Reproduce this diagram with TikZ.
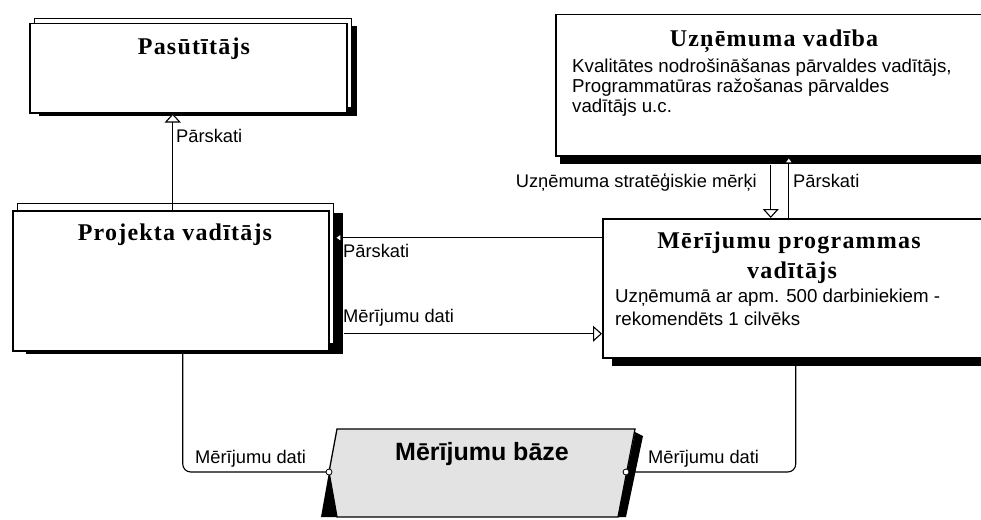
\documentclass[tikz,border=0pt]{standalone}
\usepackage{fontspec}
\setmainfont{Liberation Serif}
\setsansfont{Liberation Sans}
\newfontfamily\ttlfont[LetterSpace=5]{Liberation Serif}
\usetikzlibrary{arrows.meta,shadows,calc}
\begin{document}
\begin{tikzpicture}[x=1pt,y=-1pt,
  box/.style={draw=black, line width=1.5pt, fill=white, inner sep=0pt, anchor=north west},
  dsh/.style 2 args={general shadow={shadow xshift=#1, shadow yshift=#2, fill=black, draw=black, line width=1pt}},
  bsh/.style 2 args={general shadow={shadow xshift=#1, shadow yshift=#2, fill=white, draw=black, line width=1.2pt}},
  ttl/.style={font=\ttlfont\bfseries\fontsize{24}{28}\selectfont, inner sep=0pt, anchor=base},
  body/.style={font=\sffamily\fontsize{18.7}{20}\selectfont, inner sep=0pt, anchor=base west},
  lbl/.style={font=\sffamily\fontsize{18.3}{20}\selectfont, inner sep=0pt, anchor=base west},
  conn/.style={line width=1.1pt},
  arrbig/.style={conn, -{Triangle[length=9pt, width=16pt, fill=white]}},
  arrsm/.style={conn, -{Triangle[length=7pt, width=10pt, fill=white]}},
]
\useasboundingbox (0,0) rectangle (981,519);

% boxes
\node[box, minimum width=317pt, minimum height=89pt, dsh={10pt}{-3pt}, bsh={5pt}{5pt}] (pas) at (29,23) {};
\node[box, minimum width=316pt, minimum height=140pt, dsh={14pt}{-3pt}, bsh={5pt}{7pt}] (proj) at (12,210) {};
\node[box, minimum width=427pt, minimum height=141pt, dsh={5pt}{-8pt}] (uz) at (555,14) {};
\node[box, minimum width=380pt, minimum height=139pt, dsh={10pt}{-8pt}] (mer) at (602,218) {};

% titles
\node[ttl] (pastt) at (194,55) {Pasūtītājs};
\node[ttl] (projt) at (175,240) {Projekta vadītājs};
\node[ttl] (uzt) at (774,47) {Uzņēmuma vadība};
\node[ttl] (mert1) at (789,248) {Mērījumu programmas};
\node[ttl] (mert2) at (792,278) {vadītājs};

% body texts
\node[body] (uzb1) at (572,72) {Kvalitātes nodrošināšanas pārvaldes vadītājs,};
\node[body] (uzb2) at (572,92) {Programmatūras ražošanas pārvaldes};
\node[body] (uzb3) at (572,112) {vadītājs u.c.};
\node[body] (merb1) at (615,302) {Uzņēmumā ar apm. 500 darbiniekiem -};
\node[body] (merb2) at (615,325) {rekomendēts 1 cilvēks};

% connectors
\coordinate (a1) at ([xshift=2pt]proj.north);
\draw[arrbig] (a1) -- (a1 |- pas.south);
\node[lbl] (l1) at (176,142) {Pārskati};

\coordinate (p1) at ([xshift=5pt, yshift=43pt]proj.east);
\draw[arrsm] (mer.west |- p1) -- (p1);
\node[lbl] (l2) at (343,257) {Pārskati};

\coordinate (p2) at ([xshift=14pt, yshift=-53pt]proj.east);
\draw[arrbig] (p2) -- (p2 -| mer.west);
\node[lbl] (l3) at (343,322) {Mērījumu dati};

\coordinate (d1) at ([xshift=1.5pt, yshift=-8pt]uz.south);
\draw[arrbig] (d1) -- (d1 |- mer.north);
\coordinate (u1) at ([xshift=19.5pt]uz.south);
\draw[arrsm] (u1 |- mer.north) -- (u1);
\node[lbl, anchor=base east] (l4) at (757,187) {Uzņēmuma stratēģiskie mērķi};
\node[lbl] (l5) at (793,187) {Pārskati};

% database shape
\coordinate (bl) at (329,472);
\coordinate (br) at (626,472);
\draw[conn, rounded corners=8pt] ([xshift=12pt]proj.south) |- (bl);
\draw[conn, rounded corners=8pt] ([xshift=3pt]mer.south) |- (br);
\fill[black] (329,472) -- (321,517) -- (337,517) -- cycle;
\fill[black] (635,432) -- (643,436) -- (626,517) -- (618,517) -- cycle;
\draw[fill=gray!22, line width=1.3pt] (337,429) -- (635,429) -- (618,517) -- (337,517) -- (329,472) -- cycle;
\node[font=\sffamily\bfseries\fontsize{25}{28}\selectfont, inner sep=0pt, anchor=base] (baze) at (482,460) {Mērījumu bāze};
\draw[fill=white, line width=0.8pt] (bl) circle (3pt);
\draw[fill=white, line width=0.8pt] (br) circle (3pt);
\node[lbl] (l6) at (195,463) {Mērījumu dati};
\node[lbl] (l7) at (648,463) {Mērījumu dati};
\end{tikzpicture}
\end{document}
